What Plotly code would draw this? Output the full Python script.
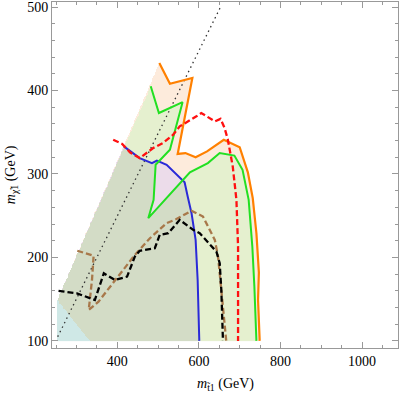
import numpy as np
import plotly.graph_objects as go

# --- contour lines (GeV) ---
orange_x = [503, 529, 584, 548, 567, 592, 620, 661, 700, 720, 732, 741, 747, 745, 749]
orange_y = [433, 408, 415, 324, 325, 320, 327, 341, 332, 302, 271, 229, 182, 149, 100]

green_x = [482, 502, 560, 529, 494, 492, 489, 476, 578, 622, 651, 687, 707, 722, 731, 736, 741]
green_y = [405, 373, 386, 329, 311, 293, 269, 247, 302, 313, 325, 322, 305, 269, 213, 165, 100]

blue_x = [416, 455, 485, 497, 521, 541, 565, 573, 582, 592, 597, 601]
blue_y = [333, 319, 313, 316, 311, 302, 290, 272, 253, 221, 173, 100]

red_x = [390, 412, 431, 455, 488, 512, 537, 553, 594, 606, 639, 653, 663, 671, 683, 692, 696, 696]
red_y = [341, 336, 326, 319, 331, 337, 347, 357, 369, 373, 363, 366, 355, 341, 309, 269, 213, 100]

black_x = [256, 301, 345, 367, 394, 424, 443, 455, 492, 504, 525, 553, 586, 602, 643, 651, 655, 659]
black_y = [160, 157, 149, 181, 173, 177, 201, 208, 211, 227, 229, 245, 233, 229, 207, 193, 161, 100]

brown_x = [302, 342, 338, 330, 354, 382, 407, 443, 480, 521, 545, 582, 610, 639, 647, 655, 667]
brown_y = [208, 202, 173, 137, 147, 165, 181, 203, 223, 241, 246, 256, 249, 221, 201, 161, 100]

dotted_x = [254, 653]
dotted_y = [105, 500]

# corners of the scanned region (bottom edge is m_chi = 100)
edge_x = [253, 253, 333]
edge_y = [100, 149, 100]


def inside(px, py, xs, ys):
    xs = np.asarray(xs, float)
    ys = np.asarray(ys, float)
    res = np.zeros(px.shape, bool)
    j = len(xs) - 1
    for i in range(len(xs)):
        dy = ys[j] - ys[i]
        if dy == 0:
            j = i
            continue
        cond = ((ys[i] > py) != (ys[j] > py)) & (px < (xs[j] - xs[i]) * (py - ys[i]) / dy + xs[i])
        res ^= cond
        j = i
    return res


# region polygons built from the boundary + contour lines
orange_poly = ([edge_x[2], edge_x[1]] + orange_x, [edge_y[2], edge_y[1]] + orange_y)
green_poly = ([edge_x[2], edge_x[1]] + green_x, [edge_y[2], edge_y[1]] + green_y)
blue_poly = ([edge_x[0], edge_x[1]] + blue_x, [edge_y[0], edge_y[1]] + blue_y)

gx = np.arange(251, 762, 2.0)
gy = np.arange(100.5, 440, 1.0)
PX, PY = np.meshgrid(gx, gy)
o = inside(PX, PY, *orange_poly)
g = inside(PX, PY, *green_poly)
b = inside(PX, PY, *blue_poly)

z = np.full(PX.shape, np.nan)
z[o & ~g & ~b] = 0
z[g & ~b] = 1
z[g & b] = 2
z[b & o & ~g] = 3
z[b & ~o & ~g] = 4

fill_cols = ['#fdebdc', '#e5f0cf', '#d3dcc6', '#ecdcea', '#cfe8e6']
cs = []
n = len(fill_cols)
for k, c in enumerate(fill_cols):
    cs.append([k / n, c])
    cs.append([(k + 1) / n, c])

fig = go.Figure()
fig.add_trace(go.Heatmap(x=gx, y=gy, z=z, colorscale=cs, zmin=-0.5, zmax=n - 0.5,
                         showscale=False, hoverinfo='skip', zsmooth=False))

fig.add_trace(go.Scatter(x=dotted_x, y=dotted_y, mode='lines',
                         line=dict(color='#333333', width=1.3, dash='1.5px,3.5px')))
fig.add_trace(go.Scatter(x=orange_x, y=orange_y, mode='lines',
                         line=dict(color='#ff8000', width=2.2)))
fig.add_trace(go.Scatter(x=blue_x, y=blue_y, mode='lines',
                         line=dict(color='#2a2ad8', width=2)))
fig.add_trace(go.Scatter(x=green_x, y=green_y, mode='lines',
                         line=dict(color='#22e022', width=2)))
fig.add_trace(go.Scatter(x=red_x, y=red_y, mode='lines',
                         line=dict(color='#ff1010', width=2.3, dash='6px,3px')))
fig.add_trace(go.Scatter(x=brown_x, y=brown_y, mode='lines',
                         line=dict(color='#a8784a', width=2.3, dash='6px,3px')))
fig.add_trace(go.Scatter(x=black_x, y=black_y, mode='lines',
                         line=dict(color='#000000', width=2.3, dash='6px,3px')))

axis_common = dict(
    showgrid=False, zeroline=False, showline=True, linecolor='#999999', linewidth=1,
    mirror='allticks', ticks='inside', ticklen=6, tickcolor='#999999', automargin=False,
    ticklabeloverflow='allow',
    tickfont=dict(family='Liberation Serif', size=14, color='black'),
)

fig.update_xaxes(range=[240, 1088], tick0=0, dtick=200,
                 minor=dict(dtick=50, ticks='inside', ticklen=3, tickcolor='#999999'),
                 **axis_common)
fig.update_yaxes(range=[91.5, 506], tick0=0, dtick=100,
                 minor=dict(dtick=20, ticks='inside', ticklen=3, tickcolor='#999999'),
                 **axis_common)

title_font = dict(family='Liberation Serif', size=14, color='black')
fig.add_annotation(text='<i>m</i><sub>t̃1</sub> (GeV)', xref='paper', yref='paper',
                   x=0.5, y=-0.105, xanchor='center', yanchor='middle',
                   showarrow=False, font=title_font)
fig.add_annotation(text='<i>m</i><sub>χ̃1</sub> (GeV)', xref='paper', yref='paper',
                   x=-0.118, y=0.5, xanchor='center', yanchor='middle', textangle=-90,
                   showarrow=False, font=title_font)

fig.update_layout(
    width=399, height=394,
    margin=dict(l=52, r=1, t=2, b=46),
    paper_bgcolor='white', plot_bgcolor='white',
    showlegend=False,
)

# drop the default 8px page margin so the figure sits at the window origin
fig.write_html("out.html", config={'displayModeBar': False},
               post_script="document.body.style.margin='0';")
